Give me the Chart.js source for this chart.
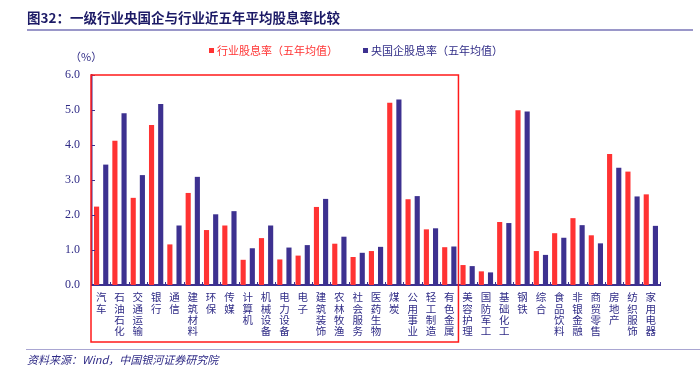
<!DOCTYPE html>
<html>
<head>
<meta charset="utf-8">
<script src="https://cdn.jsdelivr.net/npm/chart.js@4.4.1/dist/chart.umd.min.js"></script>
<style>
    body { margin: 0; background: #fff; }
    #wrap { position: relative; width: 700px; height: 378px; overflow: hidden; }
    #chartBox { position: absolute; left: 0; top: 0; width: 700px; height: 378px; }
    .txt { position: absolute; white-space: nowrap; font-family: "Noto Sans CJK SC", sans-serif; }
    #title { left: 27px; top: 7px; font-size: 13.5px; font-weight: bold; color: #1c1a66; }
    #titleLine { position: absolute; left: 27px; top: 29px; width: 666px; height: 1.5px; background: #9a97c9; }
    #unit { left: 70px; top: 48px; font-size: 11px; color: #2f2b86; }
    .legend { top: 42px; font-size: 11px; }
    .legend i { display: inline-block; width: 5px; height: 5px; margin-right: 3px; vertical-align: 2px; }
    #lgA { left: 209px; color: #ff3333; }
    #lgB { left: 363px; color: #2f2b86; }
    #srcLine { position: absolute; left: 26px; top: 349px; width: 674px; height: 1px; background: #a9a6d2; }
    #src { left: 27px; top: 351px; font-size: 11px; font-style: italic; color: #2f2b86; }
</style>
</head>
<body>
<div id="wrap">
    <div id="chartBox"><canvas id="divChart"></canvas></div>
    <div class="txt" id="title">图32：一级行业央国企与行业近五年平均股息率比较</div>
    <div id="titleLine"></div>
    <div class="txt" id="unit">（%）</div>
    <div class="txt legend" id="lgA"><i style="background:#ff3333"></i>行业股息率（五年均值）</div>
    <div class="txt legend" id="lgB"><i style="background:#3d3190"></i>央国企股息率（五年均值）</div>
    <div id="srcLine"></div>
    <div class="txt" id="src">资料来源：Wind，中国银河证券研究院</div>
</div>
<script>
// industries (first 20 sit inside the red box)
const categories = [
    "汽车", "石油石化", "交通运输", "银行", "通信", "建筑材料", "环保", "传媒", "计算机", "机械设备",
    "电力设备", "电子", "建筑装饰", "农林牧渔", "社会服务", "医药生物", "煤炭", "公用事业", "轻工制造", "有色金属",
    "美容护理", "国防军工", "基础化工", "钢铁", "综合", "食品饮料", "非银金融", "商贸零售", "房地产", "纺织服饰", "家用电器"
];
const industryYield = [
    2.24, 4.12, 2.49, 4.57, 1.16, 2.63, 1.57, 1.70, 0.72, 1.34,
    0.73, 0.84, 2.23, 1.18, 0.80, 0.97, 5.21, 2.45, 1.59, 1.08,
    0.57, 0.39, 1.80, 4.99, 0.97, 1.48, 1.91, 1.42, 3.74, 3.24, 2.59
];
const soeYield = [
    3.44, 4.91, 3.14, 5.17, 1.70, 3.09, 2.02, 2.11, 1.05, 1.70,
    1.07, 1.14, 2.46, 1.38, 0.92, 1.09, 5.30, 2.54, 1.62, 1.10,
    0.54, 0.36, 1.77, 4.96, 0.86, 1.35, 1.71, 1.19, 3.35, 2.53, 1.69
];
const yTicks = [0, 1, 2, 3, 4, 5, 6];
const boxedCount = 20;

const NAVY = "#3d3190";
const RED = "#ff3333";

// red frame round the first group + small inward tick marks
const framePlugin = {
    id: "frame",
    afterDraw(chart) {
        const ctx = chart.ctx;
        const x = chart.scales.x;
        const y = chart.scales.y;
        const area = chart.chartArea;
        const half = (x.getPixelForValue(1) - x.getPixelForValue(0)) / 2;

        ctx.save();
        ctx.strokeStyle = NAVY;
        ctx.lineWidth = 1;
        yTicks.forEach(v => {
            const py = Math.round(y.getPixelForValue(v)) + 0.5;
            ctx.beginPath();
            ctx.moveTo(area.left, py);
            ctx.lineTo(area.left + 3, py);
            ctx.stroke();
        });
        for (let i = 0; i < categories.length; i++) {
            const px = Math.round(x.getPixelForValue(i) + half) + 0.5;
            ctx.beginPath();
            ctx.moveTo(px, area.bottom);
            ctx.lineTo(px, area.bottom - 3);
            ctx.stroke();
        }

        const right = x.getPixelForValue(boxedCount - 1) + half;
        ctx.strokeStyle = "#ff1a1a";
        ctx.lineWidth = 1.5;
        ctx.strokeRect(area.left - 1, area.top, right - area.left + 1, 342 - area.top);
        ctx.restore();
    }
};

new Chart(document.getElementById("divChart"), {
    type: "bar",
    data: {
        labels: categories,
        datasets: [
            { label: "行业股息率（五年均值）", data: industryYield, backgroundColor: RED },
            { label: "央国企股息率（五年均值）", data: soeYield, backgroundColor: NAVY }
        ]
    },
    options: {
        responsive: true,
        maintainAspectRatio: false,
        animation: false,
        layout: { padding: { left: 0, right: 40, top: 75, bottom: 0 } },
        datasets: { bar: { categoryPercentage: 1, barPercentage: 0.56, borderWidth: 0 } },
        plugins: { legend: { display: false }, tooltip: { enabled: false } },
        scales: {
            x: {
                grid: { display: false, drawTicks: false },
                border: { display: true, color: NAVY, width: 2 },
                afterFit: (s) => { s.height = 93; },
                ticks: {
                    autoSkip: false,
                    maxRotation: 0,
                    minRotation: 0,
                    padding: 7,
                    color: "#2f2b86",
                    font: { family: "Noto Sans CJK SC", size: 10.5, lineHeight: 1.05 },
                    callback: function (v) { return Array.from(this.getLabelForValue(v)); }
                }
            },
            y: {
                min: 0,
                max: 6,
                grid: { display: false, drawTicks: false },
                border: { display: true, color: NAVY, width: 1.5 },
                afterFit: (s) => { s.width = 92; },
                afterBuildTicks: (s) => { s.ticks = yTicks.map(v => ({ value: v })); },
                ticks: {
                    padding: 12,
                    color: "#2f2b86",
                    font: { family: "'Liberation Serif', 'DejaVu Serif', serif", size: 12 },
                    callback: (v) => v.toFixed(1)
                }
            }
        }
    },
    plugins: [framePlugin]
});
</script>
</body>
</html>
